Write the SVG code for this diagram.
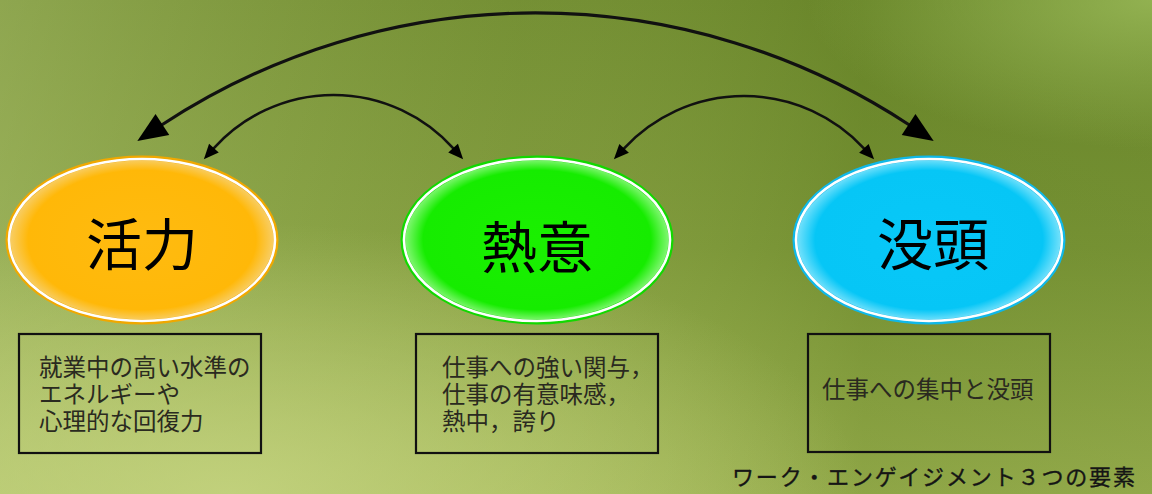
<svg xmlns="http://www.w3.org/2000/svg" width="1152" height="494" viewBox="0 0 1152 494">
<defs>
<style>
.lbl{font-family:"Noto Sans CJK JP","Noto Sans CJK SC",sans-serif;font-size:56px;fill:#000;text-anchor:middle;dominant-baseline:central}
.box{fill:none;stroke:#111;stroke-width:2.2}
.desc{font-family:"Noto Sans CJK JP","Noto Sans CJK SC",sans-serif;font-size:23.5px;fill:#2a2a20}
.arc{fill:none;stroke:#111;stroke-linecap:round}
.big{stroke-width:3.2;marker-start:url(#bigHead);marker-end:url(#bigHead)}
.small{stroke-width:2.6;marker-start:url(#smallHead);marker-end:url(#smallHead)}
.rim{fill:none;stroke:#fff;stroke-width:2.6}
.cap{font-family:"Noto Sans CJK JP","Noto Sans CJK SC",sans-serif;font-size:22px;fill:#151515;stroke:#151515;stroke-width:0.35}
</style>
<linearGradient id="bgV" x1="0" y1="0" x2="0" y2="1">
<stop offset="0" stop-color="#6f8b30"/>
<stop offset="0.5" stop-color="#7f9a3c"/>
<stop offset="1" stop-color="#a3b858"/>
</linearGradient>
<linearGradient id="bgH" x1="0" y1="0" x2="1" y2="0">
<stop offset="0" stop-color="#c8d88a" stop-opacity="0.35"/>
<stop offset="0.45" stop-color="#a8bb5c" stop-opacity="0.1"/>
<stop offset="0.75" stop-color="#506f10" stop-opacity="0.25"/>
<stop offset="1" stop-color="#4e6e12" stop-opacity="0.2"/>
</linearGradient>
<radialGradient id="bgBL" cx="0.2" cy="1" r="0.55">
<stop offset="0" stop-color="#c9d785" stop-opacity="0.75"/>
<stop offset="1" stop-color="#c9d785" stop-opacity="0"/>
</radialGradient>
<radialGradient id="bgTR" cx="1" cy="0" r="0.3">
<stop offset="0" stop-color="#9cbc5a" stop-opacity="0.8"/>
<stop offset="1" stop-color="#9cbc5a" stop-opacity="0"/>
</radialGradient>
<radialGradient id="gOrange" cx="0.5" cy="0.5" r="0.5">
<stop offset="0" stop-color="#ffbb10"/>
<stop offset="0.85" stop-color="#ffb808"/>
<stop offset="1" stop-color="#f7d070"/>
</radialGradient>
<radialGradient id="gGreen" cx="0.5" cy="0.5" r="0.5">
<stop offset="0" stop-color="#1af000"/>
<stop offset="0.85" stop-color="#16ec00"/>
<stop offset="1" stop-color="#8ef880"/>
</radialGradient>
<radialGradient id="gBlue" cx="0.5" cy="0.5" r="0.5">
<stop offset="0" stop-color="#08c8f8"/>
<stop offset="0.85" stop-color="#06c6f6"/>
<stop offset="1" stop-color="#80e4fc"/>
</radialGradient>
<marker id="bigHead" markerUnits="userSpaceOnUse" orient="auto-start-reverse" refX="0" refY="0" markerWidth="32" markerHeight="26" overflow="visible">
<path d="M0,-12.5 L30,0 L0,12.5 z" fill="#000"/>
</marker>
<marker id="smallHead" markerUnits="userSpaceOnUse" orient="auto-start-reverse" refX="0" refY="0" markerWidth="16" markerHeight="14" overflow="visible">
<path d="M0,-6.5 L15,0 L0,6.5 z" fill="#000"/>
</marker>
</defs>
<g id="background">
<rect width="1152" height="494" fill="url(#bgV)"/>
<rect width="1152" height="494" fill="url(#bgH)"/>
<rect width="1152" height="494" fill="url(#bgBL)"/>
<rect width="1152" height="494" fill="url(#bgTR)"/>
</g>
<g id="connectors">
<path class="arc big" d="M162.4,124.5 A679.7,679.7 0 0 1 908.6,124.5"/>
<path class="arc small" d="M213.9,148.2 A161,161 0 0 1 453.1,148.2"/>
<path class="arc small" d="M624.1,148.3 A163.6,163.6 0 0 1 863.9,148.3"/>
</g>
<g id="node-katsuryoku">
<ellipse cx="142" cy="240" rx="134" ry="82" fill="url(#gOrange)" stroke="#f0a800" stroke-width="5"/>
<ellipse class="rim" cx="142" cy="240" rx="133" ry="81"/>
<text class="lbl" x="142" y="240">活力</text>
</g>
<g id="node-netsui">
<ellipse cx="537" cy="240" rx="134" ry="82" fill="url(#gGreen)" stroke="#12d800" stroke-width="5"/>
<ellipse class="rim" cx="537" cy="240" rx="133" ry="81"/>
<text class="lbl" x="537" y="243">熱意</text>
</g>
<g id="node-botto">
<ellipse cx="929" cy="240" rx="134" ry="82" fill="url(#gBlue)" stroke="#10b8e8" stroke-width="5"/>
<ellipse class="rim" cx="929" cy="240" rx="133" ry="81"/>
<text class="lbl" x="933" y="240">没頭</text>
</g>
<g id="desc-katsuryoku">
<rect class="box" x="19" y="334" width="242" height="119"/>
<text class="desc"><tspan x="39" y="376">就業中の高い水準の</tspan><tspan x="39" y="403">エネルギーや</tspan><tspan x="39" y="430">心理的な回復力</tspan></text>
</g>
<g id="desc-netsui">
<rect class="box" x="416" y="334" width="242" height="119"/>
<text class="desc"><tspan x="442" y="376">仕事への強い関与，</tspan><tspan x="442" y="403">仕事の有意味感，</tspan><tspan x="442" y="430">熱中，誇り</tspan></text>
</g>
<g id="desc-botto">
<rect class="box" x="808" y="334" width="242" height="118"/>
<text class="desc" x="822" y="398">仕事への集中と没頭</text>
</g>
<g id="caption">
<text class="cap" x="732" y="485" textLength="403" lengthAdjust="spacing">ワーク・エンゲイジメント３つの要素</text>
</g>
</svg>
